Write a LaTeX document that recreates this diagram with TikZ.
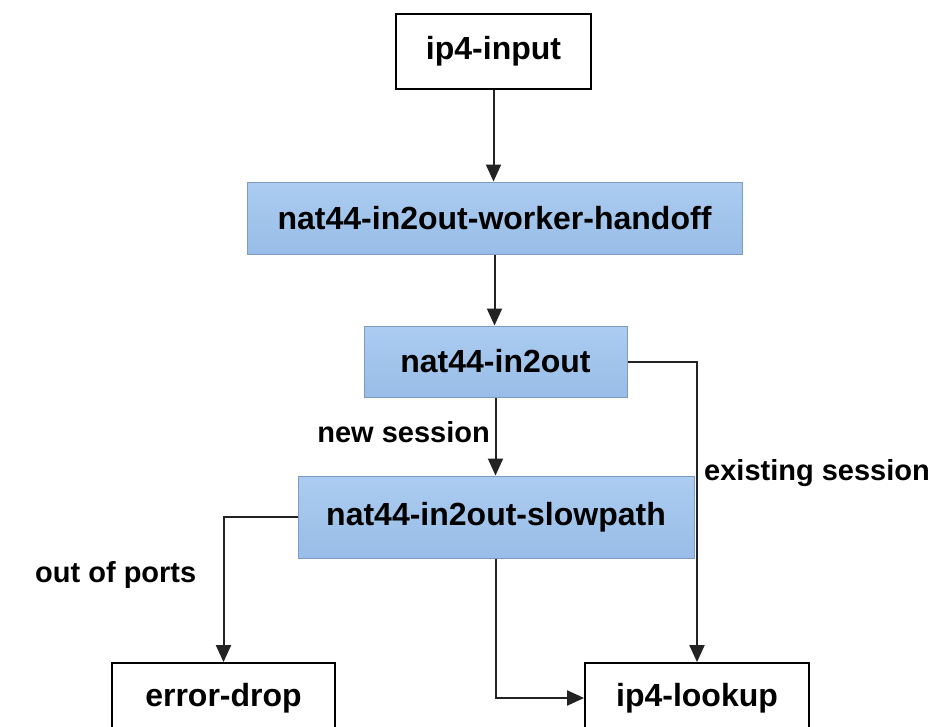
\documentclass[tikz,border=0pt]{standalone}
\usepackage{fontspec}
\setmainfont{Liberation Sans}
\usetikzlibrary{arrows.meta,positioning}

\definecolor{boxblueA}{RGB}{172,204,240}
\definecolor{boxblueB}{RGB}{152,189,231}
\definecolor{boxedge}{RGB}{125,155,195}
\definecolor{wire}{RGB}{35,35,35}

\tikzset{
  plainbox/.style={draw=black, line width=1.8pt, fill=white, inner sep=0pt,
    font=\fontsize{32}{36}\selectfont\bfseries},
  bluebox/.style={draw=boxedge, line width=1pt, top color=boxblueA, bottom color=boxblueB,
    inner sep=0pt, font=\fontsize{32}{36}\selectfont\bfseries},
  wirearrow/.style={draw=wire, line width=2pt, -{Triangle[length=17pt,width=15pt]}},
  edgelabel/.style={inner sep=0pt, font=\fontsize{29}{34}\selectfont\bfseries},
}

\begin{document}
\begin{tikzpicture}[x=1pt, y=-1pt]
  \useasboundingbox (0,0) rectangle (936,726);
  \clip (0,0) rectangle (936,726);
  \fill[white] (0,0) rectangle (936,726);

  % processing nodes
  \node[plainbox, minimum width=195pt, minimum height=75pt] (ipinput) at (493.5,51.5) {ip4-input};
  \node[bluebox, minimum width=495pt, minimum height=72pt] (handoff) at (494.5,218) {nat44-in2out-worker-handoff};
  \node[bluebox, minimum width=263pt, minimum height=71pt] (inout) at (495.5,361.5) {nat44-in2out};
  \node[bluebox, minimum width=396pt, minimum height=82pt] (slowpath) at (496,517) {nat44-in2out-slowpath};
  \node[plainbox, minimum width=223pt, minimum height=70pt] (errdrop) at (223.5,698) {error-drop};
  \node[plainbox, minimum width=224pt, minimum height=70pt] (lookup) at (697,698) {ip4-lookup};

  % branch labels
  \node[edgelabel, anchor=east] (lblnew) at (490,432) {new session};
  \node[edgelabel, anchor=west] (lblexist) at (704,473) {existing session};
  \node[edgelabel, anchor=west] (lblports) at (35,575) {out of ports};

  % connectors
  \draw[wirearrow] (ipinput.south) -- (ipinput.south |- handoff.north);
  \draw[wirearrow] (handoff.south) -- (handoff.south |- inout.north);
  \draw[wirearrow] (inout.south) -- (inout.south |- slowpath.north);
  \draw[wirearrow] (inout.east) -| (lookup.north);
  \draw[wirearrow] (slowpath.west) -| (errdrop.north);
  \draw[wirearrow] (slowpath.south) |- (lookup.west);
\end{tikzpicture}
\end{document}
